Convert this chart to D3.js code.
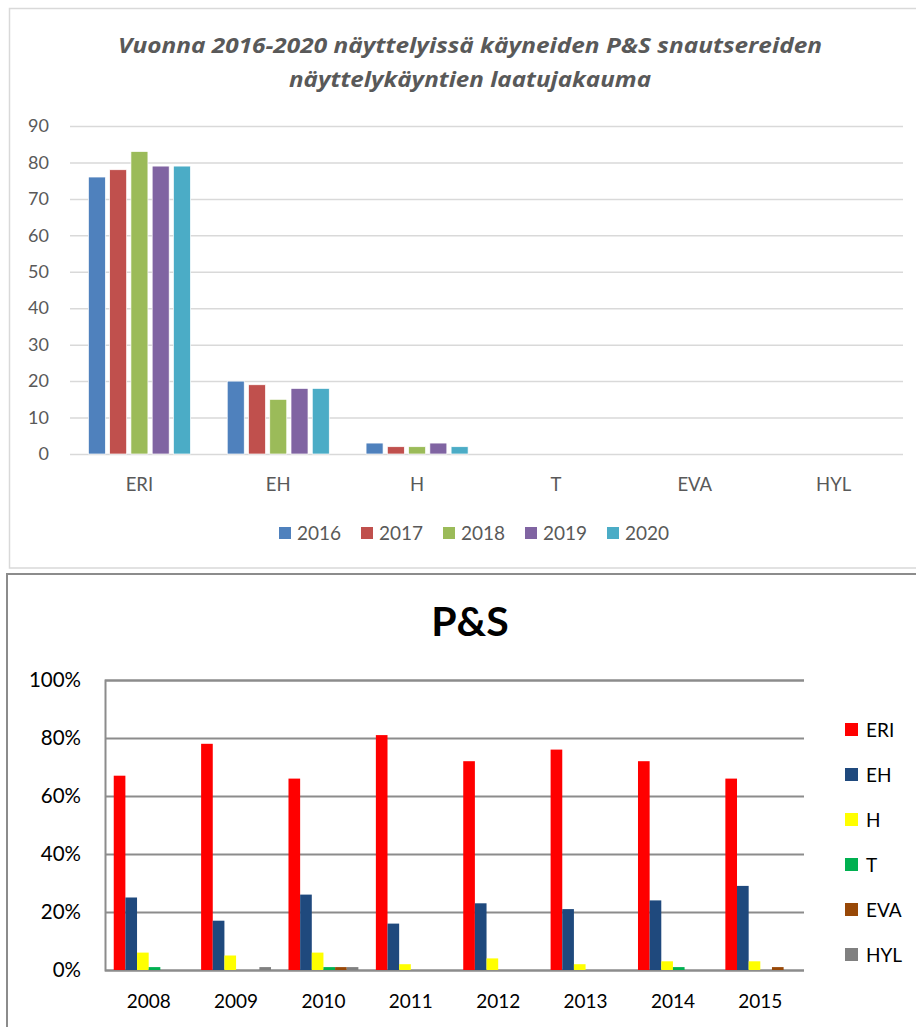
<!DOCTYPE html>
<html>
<head>
<meta charset="utf-8">
<script src="https://cdn.jsdelivr.net/npm/d3@7"></script>
<style>
  html, body { margin: 0; padding: 0; background: #fff; }
  svg { display: block; }
  text { font-variant-ligatures: none; }
</style>
</head>
<body>
<svg id="chart" width="916" height="1027"></svg>
<script>
// ---------- Data: top chart ----------
const topCategories = ["ERI", "EH", "H", "T", "EVA", "HYL"];
const topYears = ["2016", "2017", "2018", "2019", "2020"];
const topColors = ["#4f81bd", "#c0504d", "#9bbb59", "#8064a2", "#4bacc6"];
const v2016 = [76, 20, 3, 0, 0, 0];
const v2017 = [78, 19, 2, 0, 0, 0];
const v2018 = [83, 15, 2, 0, 0, 0];
const v2019 = [79, 18, 3, 0, 0, 0];
const v2020 = [79, 18, 2, 0, 0, 0];
const topTicks = [0, 10, 20, 30, 40, 50, 60, 70, 80, 90];
const topTitle = ["Vuonna 2016-2020 näyttelyissä käyneiden P&S snautsereiden", "näyttelykäyntien laatujakauma"];

// ---------- Data: bottom chart ----------
const botYears = ["2008", "2009", "2010", "2011", "2012", "2013", "2014", "2015"];
const botSeries = ["ERI", "EH", "H", "T", "EVA", "HYL"];
const botColors = ["#ff0000", "#1f497d", "#ffff00", "#00b050", "#984807", "#808080"];
const sERI = [67, 78, 66, 81, 72, 76, 72, 66];
const sEH  = [25, 17, 26, 16, 23, 21, 24, 29];
const sH   = [6, 5, 6, 2, 4, 2, 3, 3];
const sT   = [1, 0, 1, 0, 0, 0, 1, 0];
const sEVA = [0, 0, 1, 0, 0, 0, 0, 1];
const sHYL = [0, 1, 1, 0, 0, 0, 0, 0];
const botTicks = [0, 20, 40, 60, 80, 100];
const botTitle = "P&S";

const svg = d3.select("#chart");
const FONT = "Lato, 'Open Sans', 'Liberation Sans', sans-serif";
const TFONT = "'Open Sans', Lato, sans-serif";

// ================= TOP CHART =================
const topVals = [v2016, v2017, v2018, v2019, v2020];
svg.append("rect").attr("x", 9.5).attr("y", 8.5).attr("width", 930).attr("height", 559.5)
  .attr("fill", "#fff").attr("stroke", "#d9d9d9").attr("stroke-width", 1.5);

const titleLens = [704, 362];
svg.append("text")
  .attr("font-family", TFONT).attr("font-size", 21).attr("font-style", "italic").attr("font-weight", "bold")
  .attr("fill", "#595959").attr("text-anchor", "middle")
  .selectAll("tspan").data(topTitle).join("tspan")
  .attr("x", 470).attr("y", (d, i) => 53 + i * 34)
  .attr("textLength", (d, i) => titleLens[i]).attr("lengthAdjust", "spacingAndGlyphs")
  .text(d => d);

const tx0 = d3.scaleBand().domain(topCategories).range([70, 903]).paddingInner(0.265).paddingOuter(0.1325);
const tx1 = d3.scaleBand().domain(topYears).range([0, tx0.bandwidth()]).paddingInner(0.2).paddingOuter(0);
const ty = d3.scaleLinear().domain([0, 90]).range([454, 126]);

const tAxis = d3.axisLeft(ty).tickValues(topTicks).tickSize(-(903 - 70)).tickFormat(d3.format("d"));
const tg = svg.append("g").attr("transform", "translate(70,0)").call(tAxis);
tg.select(".domain").remove();
tg.selectAll(".tick line").attr("stroke", "#d9d9d9").attr("stroke-width", 1.5);
tg.selectAll(".tick text").attr("x", -21).attr("font-family", FONT).attr("font-size", 18).attr("fill", "#595959");

const groups = svg.append("g").selectAll("g").data(topCategories).join("g")
  .attr("transform", d => `translate(${tx0(d)},0)`);
groups.selectAll("rect").data((c, ci) => topYears.map((y, yi) => ({ y, yi, v: topVals[yi][ci] })))
  .join("rect")
  .attr("x", d => tx1(d.y)).attr("width", tx1.bandwidth())
  .attr("y", d => ty(d.v)).attr("height", d => ty(0) - ty(d.v))
  .attr("fill", d => topColors[d.yi]).attr("stroke", "#fff").attr("stroke-width", 0.7);

const txAxis = d3.axisBottom(tx0).tickSize(0);
const txg = svg.append("g").attr("transform", "translate(0,454)").call(txAxis);
txg.select(".domain").remove();
txg.selectAll(".tick text").attr("dy", 0).attr("y", 37).attr("font-family", FONT).attr("font-size", 18.5).attr("fill", "#595959");

const tLeg = svg.append("g").selectAll("g").data(topYears).join("g")
  .attr("transform", (d, i) => `translate(${279 + i * 82},527)`);
tLeg.append("rect").attr("width", 12).attr("height", 12).attr("fill", (d, i) => topColors[i]);
tLeg.append("text").attr("x", 18).attr("y", 13).attr("font-family", FONT).attr("font-size", 19).attr("fill", "#595959").text(d => d);

// ================= BOTTOM CHART =================
const botVals = [sERI, sEH, sH, sT, sEVA, sHYL];
svg.append("rect").attr("x", 7).attr("y", 574).attr("width", 930).attr("height", 480)
  .attr("fill", "#fff").attr("stroke", "#8c8c8c").attr("stroke-width", 2);

svg.append("text").attr("x", 470).attr("y", 636).attr("text-anchor", "middle")
  .attr("font-family", FONT).attr("font-size", 41).attr("font-weight", "bold").attr("fill", "#000").text(botTitle);

const bx0 = d3.scaleBand().domain(botYears).range([105, 804]).paddingInner(0.2).paddingOuter(0.1);
const bx1 = d3.scaleBand().domain(botSeries).range([0, bx0.bandwidth()]).padding(0);
const by = d3.scaleLinear().domain([0, 100]).range([970, 680]);

const bAxis = d3.axisLeft(by).tickValues(botTicks).tickSize(-(804 - 105)).tickFormat(d => d + "%");
const bg = svg.append("g").attr("transform", "translate(105,0)").call(bAxis);
bg.select(".domain").attr("stroke", "#8c8c8c").attr("stroke-width", 2);
bg.selectAll(".tick line").attr("stroke", "#8c8c8c").attr("stroke-width", 2);
bg.selectAll(".tick text").attr("x", -24).attr("font-family", FONT).attr("font-size", 20.5).attr("fill", "#000");

const bgroups = svg.append("g").selectAll("g").data(botYears).join("g")
  .attr("transform", d => `translate(${bx0(d)},0)`);
bgroups.selectAll("rect").data((yr, yi) => botSeries.map((s, si) => ({ s, si, v: botVals[si][yi] })))
  .join("rect")
  .attr("x", d => bx1(d.s)).attr("width", bx1.bandwidth())
  .attr("y", d => by(d.v)).attr("height", d => by(0) - by(d.v))
  .attr("fill", d => botColors[d.si]);

const bxAxis = d3.axisBottom(bx0).tickSize(0);
const bxg = svg.append("g").attr("transform", "translate(0,970)").call(bxAxis);
bxg.select(".domain").remove();
bxg.selectAll(".tick text").attr("dy", 0).attr("y", 38).attr("font-family", FONT).attr("font-size", 19).attr("fill", "#000");

const bLeg = svg.append("g").selectAll("g").data(botSeries).join("g")
  .attr("transform", (d, i) => `translate(845,${723 + i * 45})`);
bLeg.append("rect").attr("width", 13).attr("height", 13).attr("fill", (d, i) => botColors[i]);
bLeg.append("text").attr("x", 21).attr("y", 14).attr("font-family", FONT).attr("font-size", 19).attr("fill", "#000").text(d => d);
</script>
</body>
</html>
